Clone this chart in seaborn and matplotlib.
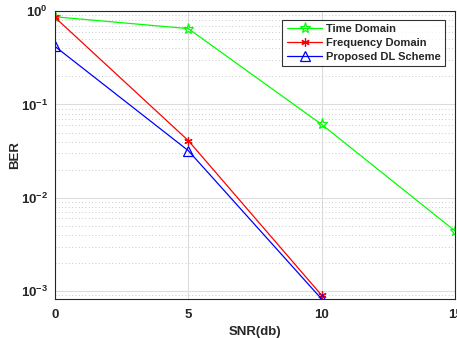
import matplotlib
matplotlib.use("Agg")
import matplotlib.pyplot as plt
import seaborn as sns
import pandas as pd
from matplotlib.ticker import LogLocator, NullFormatter

snr = [0, 5, 10, 15]
time_domain = [0.87, 0.65, 0.061, 0.0044]
freq_snr = [0, 5, 10]
freq_domain = [0.86, 0.041, 0.00090]
dl_snr = [0, 5, 10]
dl_scheme = [0.42, 0.032, 0.00082]

sns.set_style("white")
plt.rcParams['font.family'] = ['Liberation Sans', 'DejaVu Sans']
plt.rcParams['font.weight'] = 'bold'

fig = plt.figure(figsize=(4.57, 3.38), dpi=100)
ax = fig.add_axes([0.120, 0.115, 0.876, 0.852])

df_t = pd.DataFrame({"snr": snr, "ber": time_domain})
df_f = pd.DataFrame({"snr": freq_snr, "ber": freq_domain})
df_d = pd.DataFrame({"snr": dl_snr, "ber": dl_scheme})

sns.lineplot(data=df_t, x="snr", y="ber", ax=ax, color="#00ff00", lw=0.9,
             marker="*", markersize=8, markerfacecolor="none",
             markeredgecolor="#00ff00", markeredgewidth=0.9, label="Time Domain")
sns.lineplot(data=df_f, x="snr", y="ber", ax=ax, color="#ff0000", lw=0.9,
             marker=(6, 2, 0), markersize=6, markeredgecolor="#ff0000",
             markeredgewidth=0.9, label="Frequency Domain")
sns.lineplot(data=df_d, x="snr", y="ber", ax=ax, color="#0000ff", lw=0.9,
             marker="^", markersize=7, markerfacecolor="none",
             markeredgecolor="#0000ff", markeredgewidth=0.9, label="Proposed DL Scheme")

ax.set_yscale("log")
ax.set_xlim(0, 15)
ax.set_ylim(8.2e-4, 1)
ax.set_xticks([0, 5, 10, 15])
ax.yaxis.set_major_locator(LogLocator(base=10, numticks=10))
ax.yaxis.set_minor_locator(LogLocator(base=10, subs=range(2, 10), numticks=20))
ax.yaxis.set_minor_formatter(NullFormatter())

ax.grid(True, which="major", color="#dcdcdc", lw=0.8, ls="-")
ax.grid(True, which="minor", axis="y", color="#b8b8b8", lw=0.6, ls=(0, (1, 3)))
ax.set_axisbelow(True)

ax.tick_params(axis="both", which="both", direction="in", labelsize=9.5)
ax.tick_params(which="major", length=4, width=0.7)
ax.tick_params(which="minor", length=2, width=0.5)
ax.tick_params(axis="x", pad=7)
ax.tick_params(axis="y", pad=5)
for lbl in ax.get_xticklabels() + ax.get_yticklabels():
    lbl.set_fontweight("bold")

for s in ax.spines.values():
    s.set_color("#262626")
    s.set_linewidth(0.8)

ax.set_xlabel("SNR(db)", fontsize=9.5, fontweight="bold", labelpad=4)
ax.set_ylabel("BER", fontsize=9.5, fontweight="bold")
ax.yaxis.set_label_coords(-0.085, 0.5)

leg = ax.legend(loc="upper right", bbox_to_anchor=(0.988, 0.99),
                prop={"weight": "bold", "size": 8}, frameon=True,
                fancybox=False, edgecolor="black", handlelength=3.2,
                borderpad=0.4, labelspacing=0.35, handletextpad=0.3)
leg.get_frame().set_linewidth(0.8)

fig.savefig("out.png", dpi=100)
